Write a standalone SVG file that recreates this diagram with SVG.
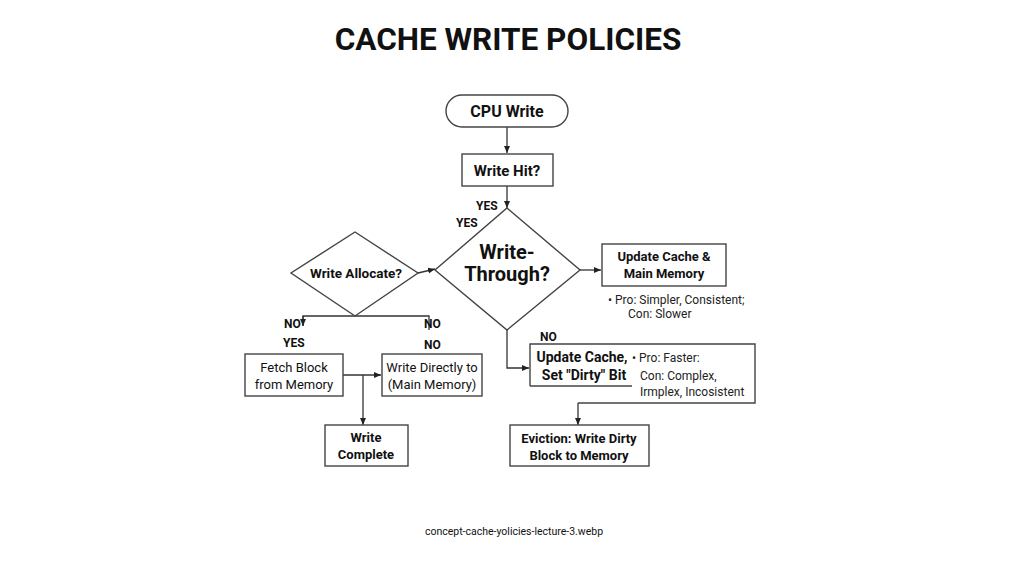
<svg xmlns="http://www.w3.org/2000/svg" width="1024" height="576" viewBox="0 0 1024 576">
<defs>
<marker id="ah" markerWidth="8" markerHeight="8" refX="7" refY="4" orient="auto" markerUnits="userSpaceOnUse">
<path d="M0,1 L7,4 L0,7 Z" fill="#222"/>
</marker>
<style>
.box{fill:#fff;stroke:#444;stroke-width:1.4}
.ln{fill:none;stroke:#333;stroke-width:1.3}
text{font-family:Roboto,"Liberation Sans",sans-serif;fill:#111}
.b{font-weight:bold}
.c{text-anchor:middle}
.lbl{font-size:12px;font-weight:bold}
.note{font-size:12px;fill:#222}
</style>
</defs>
<rect width="1024" height="576" fill="#fff"/>
<text x="508" y="50" class="b c" font-size="31.5">CACHE WRITE POLICIES</text>

<g id="connectors">
<path class="ln" d="M507,127 V153" marker-end="url(#ah)"/>
<path class="ln" d="M507,186 V208" marker-end="url(#ah)"/>
<path class="ln" d="M418,273 L435,269" marker-end="url(#ah)"/>
<path class="ln" d="M580,270 H601" marker-end="url(#ah)"/>
<path class="ln" d="M303,326 V316 H429 V330"/>
<path class="ln" d="M303,316 V326" marker-end="url(#ah)"/>
<path class="ln" d="M343,375 H381" marker-end="url(#ah)"/>
<path class="ln" d="M363,375 V425" marker-end="url(#ah)"/>
<path class="ln" d="M507,330 V368 H529" marker-end="url(#ah)"/>
<path class="ln" d="M578,386 V425" marker-end="url(#ah)"/>
<text x="476" y="210" class="lbl">YES</text>
<text x="456" y="227" class="lbl">YES</text>
<text x="284" y="328" class="lbl">NO</text>
<text x="424" y="328" class="lbl">NO</text>
<text x="283" y="347" class="lbl">YES</text>
<text x="424" y="349" class="lbl">NO</text>
<text x="540" y="341" class="lbl">NO</text>
</g>

<g id="cpu-write">
<rect class="box" x="446" y="95" width="122" height="32" rx="16"/>
<text x="507" y="117" class="b c" font-size="16">CPU Write</text>
</g>
<g id="write-hit">
<rect class="box" x="462" y="154" width="91" height="32"/>
<text x="507" y="176" class="b c" font-size="15">Write Hit?</text>
</g>
<g id="write-through">
<polygon class="box" points="507,208 580,270 507,330 435,270"/>
<text x="507" y="259" class="b c" font-size="20">Write-</text>
<text x="507" y="281" class="b c" font-size="20">Through?</text>
</g>
<g id="write-allocate">
<polygon class="box" points="355,232 418,273 355,316 291,273"/>
<text x="356" y="278" class="b c" font-size="13.5">Write Allocate?</text>
</g>
<g id="update-cache-main">
<rect class="box" x="602" y="244" width="124" height="42"/>
<text x="664" y="261" class="b c" font-size="13">Update Cache &amp;</text>
<text x="664" y="278" class="b c" font-size="13">Main Memory</text>
<text x="608" y="304" class="note">• Pro: Simpler, Consistent;</text>
<text x="628" y="318" class="note">Con: Slower</text>
</g>
<g id="fetch-block">
<rect class="box" x="245" y="354" width="98" height="42"/>
<text x="294" y="372" class="c" font-size="13">Fetch Block</text>
<text x="294" y="389" class="c" font-size="13">from Memory</text>
</g>
<g id="write-directly">
<rect class="box" x="382" y="354" width="100" height="42"/>
<text x="432" y="372" class="c" font-size="13">Write Directly to</text>
<text x="432" y="389" class="c" font-size="13">(Main Memory)</text>
</g>
<g id="write-complete">
<rect class="box" x="325" y="425" width="83" height="41"/>
<text x="366" y="442" class="b c" font-size="13">Write</text>
<text x="366" y="459" class="b c" font-size="13">Complete</text>
</g>
<g id="update-cache-dirty">
<path class="box" d="M530,386 V344 H755 V403 H578 M530,386 H632" fill="none"/>
<text x="582" y="362" class="b c" font-size="14">Update Cache,</text>
<text x="584" y="380" class="b c" font-size="14">Set "Dirty" Bit</text>
<text x="632" y="362" class="note">• Pro: Faster:</text>
<text x="640" y="380" class="note">Con: Complex,</text>
<text x="640" y="396" class="note">Irmplex, Incosistent</text>
</g>
<g id="eviction">
<rect class="box" x="510" y="425" width="139" height="41"/>
<text x="579" y="443" class="b c" font-size="13">Eviction: Write Dirty</text>
<text x="579" y="460" class="b c" font-size="13">Block to Memory</text>
</g>
<text x="514" y="535" class="c" font-size="10.5" fill="#222">concept-cache-yolicies-lecture-3.webp</text>
</svg>
